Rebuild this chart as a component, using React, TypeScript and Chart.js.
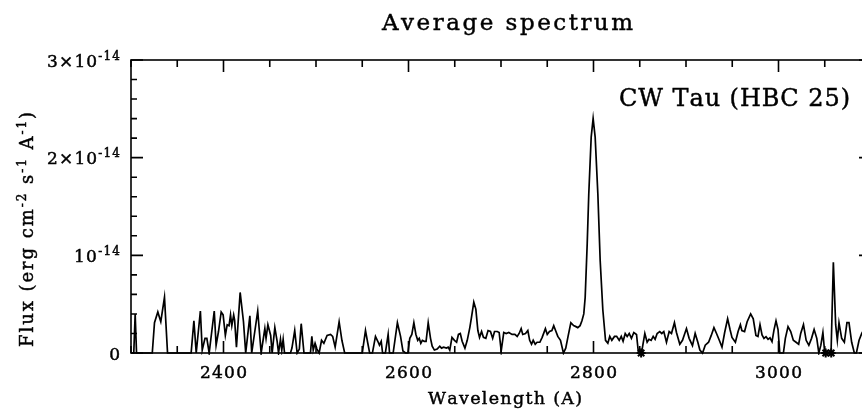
import React, { useEffect, useRef } from "react";
import { Chart, registerables } from "chart.js";

Chart.register(...registerables);

// Wavelength (Å) and flux (units of 1e-15 erg cm^-2 s^-1 Å^-1)
const wavelengths = [
  2300, 2303, 2304.5, 2306, 2323, 2325.4, 2329, 2332.2, 2336.2, 2339.5,
  2365, 2368, 2370.5, 2375, 2377, 2380, 2382, 2384.5, 2390, 2392,
  2394.6, 2397.5, 2399.6, 2402, 2404, 2406, 2407.6, 2409, 2411, 2412,
  2414, 2418, 2421.6, 2424, 2428.5, 2430.5, 2437, 2440.7, 2444.7, 2446,
  2448, 2451, 2452.6, 2455.5, 2458, 2459.5, 2461.6, 2463, 2464.5, 2466,
  2472.4, 2474, 2477, 2479.6, 2482, 2484, 2487, 2494, 2495.5, 2497,
  2499, 2501, 2503.4, 2506, 2508.5, 2512, 2515.7, 2518, 2520.7, 2525,
  2528, 2531, 2550, 2553.5, 2556, 2558, 2561, 2564.3, 2566.8, 2568.6,
  2570.5, 2572, 2575, 2578, 2579.5, 2583.4, 2588, 2591.4, 2594, 2596.8,
  2599.3, 2601.4, 2603.6, 2605.8, 2608, 2610, 2611.6, 2613.3, 2615, 2617,
  2619, 2621.3, 2623.8, 2625.6, 2628, 2631, 2633.8, 2635.7, 2638, 2641,
  2642.9, 2644.6, 2647, 2649.7, 2652, 2654, 2656, 2658, 2661, 2663.5,
  2666.3, 2668, 2670.6, 2672.8, 2675, 2676.8, 2679, 2681, 2683.6, 2686,
  2688.6, 2691, 2693, 2696, 2698, 2700.2, 2703, 2705.6, 2708.4, 2712,
  2715, 2717.5, 2719.6, 2721.8, 2723.5, 2726.5, 2729, 2731, 2733, 2734.8,
  2737, 2739, 2742, 2744.5, 2748, 2750, 2752.4, 2755, 2757, 2759,
  2761.4, 2764.3, 2767.5, 2770, 2772.5, 2775.5, 2778.5, 2781, 2783, 2785.5,
  2787.5, 2789.5, 2791, 2793.2, 2794.9, 2797.5, 2799.6, 2801.8, 2804.7, 2807.2,
  2810.1, 2813, 2815.5, 2817.6, 2819.8, 2822.7, 2825, 2827.8, 2830, 2832,
  2834.3, 2836.4, 2838.6, 2841, 2843.6, 2846.5, 2848.6, 2851.9, 2855.5, 2858,
  2860, 2862.3, 2864.5, 2866.6, 2868.8, 2871.6, 2873.8, 2876, 2878.9, 2881.8,
  2884.3, 2887.5, 2889.7, 2893.3, 2896.2, 2900.5, 2903.4, 2907, 2909.9, 2912.8,
  2915, 2917.9, 2920.8, 2924.4, 2927.3, 2930.2, 2933, 2936, 2938.9, 2941.8,
  2945, 2947.6, 2949.7, 2953.4, 2956.3, 2958.8, 2960.4, 2963.3, 2966.1, 2969.9,
  2972.7, 2975.6, 2977.8, 2980, 2982.2, 2984.3, 2986.5, 2988.7, 2990.8, 2993,
  2995.1, 2997.3, 2999.5, 3001.4, 3005.3, 3007.4, 3010.3, 3013.2, 3016, 3019,
  3021.8, 3024, 3027, 3029.9, 3032.8, 3035.7, 3038.5, 3041.4, 3043.6, 3045.8,
  3048, 3050, 3056.8, 3059.3, 3061.8, 3063.6, 3065.4, 3068.3, 3071.2, 3074,
  3076.2, 3079.1, 3082, 3084.2, 3087.1, 3090, 3093, 3097, 3100,
];

const fluxes = [
  0, 0, 4.0, 0, 0, 3.1, 4.2, 3.2, 5.7, 0,
  0, 3.3, 0, 4.3, 0.3, 1.5, 1.5, 0, 4.3, 0.8,
  2.2, 4.2, 3.9, 1.8, 2.9, 2.8, 3.9, 2.8, 3.9, 3.4,
  0.6, 6.2, 3.2, 0, 3.8, 0, 4.3, 0, 2.5, 1.5,
  2.9, 1.8, 0, 2.6, 1.2, 0, 1.4, 0.3, 1.4, 0,
  0, 0.5, 2.3, 0, 0.4, 3.0, 0, 0, 1.7, 0.3,
  1.0, 0.4, 0, 1.3, 1.0, 1.8, 1.9, 1.7, 0.6, 3.2,
  1.3, 0, 0, 2.3, 1.0, 0, 0, 1.7, 1.2, 0.8,
  1.2, 0, 0, 1.9, 0, 0, 3.1, 1.7, 0.2, 0,
  0, 1.5, 1.9, 3.1, 1.9, 1.3, 1.5, 1.0, 1.3, 1.2,
  1.2, 3.1, 1.5, 0.7, 0.3, 0.4, 0.7, 0.5, 0.6, 0.5,
  0.6, 0.3, 1.6, 1.3, 1.1, 1.9, 2.0, 1.2, 0.5, 1.3,
  2.6, 3.6, 5.2, 4.5, 2.3, 1.6, 2.2, 1.6, 1.5, 2.3,
  2.2, 1.5, 2.2, 2.2, 2.1, 0.2, 2.1, 2.0, 2.1, 1.9,
  1.9, 1.7, 2.0, 2.5, 1.9, 2.0, 2.3, 1.3, 0.9, 1.3,
  0.9, 1.1, 1.1, 1.6, 2.5, 1.9, 2.2, 2.3, 2.8, 2.3,
  1.7, 1.3, 0, 0.5, 1.7, 3.1, 2.8, 2.7, 2.6, 2.8,
  3.3, 4.0, 5.7, 11.2, 16.3, 22.1, 24.0, 22.1, 16.3, 9.5,
  4.4, 1.3, 1.0, 1.7, 1.3, 1.7, 1.7, 1.3, 1.7, 1.2,
  2.0, 1.7, 2.0, 1.5, 2.1, 1.9, 0, 0, 2.0, 1.1,
  1.4, 1.3, 1.7, 1.4, 2.0, 2.2, 2.0, 2.2, 1.1, 2.2,
  2.0, 3.1, 2.1, 0.9, 1.3, 2.5, 1.5, 0.75, 2.0, 1.1,
  0.3, 0, 0.8, 1.1, 1.8, 2.6, 2.0, 1.3, 0.6, 2.1,
  3.5, 2.4, 1.6, 1.1, 2.2, 2.9, 2.3, 2.2, 3.2, 4.0,
  3.5, 1.8, 1.7, 2.9, 1.85, 1.5, 1.67, 1.4, 1.56, 1.16,
  2.35, 3.3, 2.4, 0, 0, 1.5, 2.7, 2.2, 1.3, 1.1,
  0.9, 2.0, 2.9, 1.3, 0.8, 1.5, 2.4, 1.5, 0, 0.8,
  2.1, 0, 0, 9.3, 2.9, 1.3, 3.1, 1.5, 1.1, 3.1,
  3.1, 1.1, 0, 0, 1.3, 2.0, 2.5, 2.0, 2.2,
];

const flaggedWavelengths = [2851.5, 3051, 3057];
const flaggedFluxes = [0, 0, 0];

const xMinorStep = 50;
const xMajorTicks = [2400, 2600, 2800, 3000];
const xTickLabels = ["2400", "2600", "2800", "3000"];
const yMinorStep = 2;
const yMajorTicks = [0, 10, 20, 30];
const yTickMantissa = ["0", "10", "2×10", "3×10"];
const yTickExponent = ["", "-14", "-14", "-14"];

const titleText = "Average spectrum";
const objectLabel = "CW Tau (HBC 25)";
const xAxisTitle = "Wavelength (A)";
const yAxisTitleText = ["Flux (erg cm", "-2", " s", "-1", " A", "-1", ")"];
const yAxisTitleSup = [false, true, false, true, false, true, false];

const FONT = '"DejaVu Serif", serif';

type Seg = { t: string; sup: boolean };

function naturalWidth(ctx: CanvasRenderingContext2D, segs: Seg[], base: number, sup: number) {
  let w = 0;
  let n = 0;
  for (const s of segs) {
    ctx.font = `${s.sup ? sup : base}px ${FONT}`;
    for (const ch of s.t) {
      w += ctx.measureText(ch).width;
      n++;
    }
  }
  return { w, n };
}

function drawFit(
  ctx: CanvasRenderingContext2D,
  segs: Seg[],
  x: number,
  y: number,
  align: "left" | "center" | "right",
  target: number | null,
  base: number,
  sup: number,
  raise: number
) {
  const { w, n } = naturalWidth(ctx, segs, base, sup);
  const ls = target != null && n > 1 ? (target - w) / (n - 1) : 0;
  const total = w + ls * (n - 1);
  let cx = align === "left" ? x : align === "right" ? x - total : x - total / 2;
  ctx.textAlign = "left";
  ctx.textBaseline = "alphabetic";
  ctx.lineWidth = 0.45;
  for (const s of segs) {
    ctx.font = `${s.sup ? sup : base}px ${FONT}`;
    for (const ch of s.t) {
      const yy = s.sup ? y - raise : y;
      ctx.fillText(ch, cx, yy);
      ctx.strokeText(ch, cx, yy);
      cx += ctx.measureText(ch).width + ls;
    }
  }
}

const framePlugin = {
  id: "frame",
  afterDraw(chart: any) {
    const ctx: CanvasRenderingContext2D = chart.ctx;
    const { left, right, top, bottom } = chart.chartArea;
    const xs = chart.scales.x;
    const ys = chart.scales.y;
    ctx.save();
    ctx.strokeStyle = "#000";
    ctx.fillStyle = "#000";
    ctx.lineWidth = 1.6;
    ctx.strokeRect(left, top, right - left, bottom - top);

    ctx.beginPath();
    for (let v = xs.min; v <= xs.max + 1e-6; v += xMinorStep) {
      const px = xs.getPixelForValue(v);
      const len = xMajorTicks.includes(v) ? 12 : 7;
      ctx.moveTo(px, top);
      ctx.lineTo(px, top + len);
      ctx.moveTo(px, bottom);
      ctx.lineTo(px, bottom - len);
    }
    for (let v = ys.min; v <= ys.max + 1e-6; v += yMinorStep) {
      const py = ys.getPixelForValue(v);
      const len = yMajorTicks.includes(v) ? 12 : 6;
      ctx.moveTo(left, py);
      ctx.lineTo(left + len, py);
      ctx.moveTo(right, py);
      ctx.lineTo(right - len, py);
    }
    ctx.stroke();

    // x tick labels
    xMajorTicks.forEach((v, i) => {
      const px = xs.getPixelForValue(v);
      drawFit(ctx, [{ t: xTickLabels[i], sup: false }], px, bottom + 25, "center", 47, 17, 12, 0);
    });

    // y tick labels
    yMajorTicks.forEach((v, i) => {
      const py = ys.getPixelForValue(v);
      const segs: Seg[] = [{ t: yTickMantissa[i], sup: false }];
      if (yTickExponent[i]) segs.push({ t: yTickExponent[i], sup: true });
      const target = yTickExponent[i] ? (yTickMantissa[i].length > 2 ? 73 : 46) : null;
      drawFit(ctx, segs, left - 11, py + 6.5, "right", target, 17, 12, 7);
    });

    // Title
    drawFit(ctx, [{ t: titleText, sup: false }], 507.5, 29.5, "center", 251, 23, 14, 0);
    // Object label
    drawFit(ctx, [{ t: objectLabel, sup: false }], 850, 106, "right", 231, 24, 14, 0);
    // x axis title
    drawFit(ctx, [{ t: xAxisTitle, sup: false }], 505, 404, "center", 154, 17.5, 11, 0);

    // y axis title (rotated)
    ctx.save();
    ctx.translate(33, 347);
    ctx.rotate(-Math.PI / 2);
    const ysegs: Seg[] = yAxisTitleText.map((t, i) => ({ t, sup: yAxisTitleSup[i] }));
    drawFit(ctx, ysegs, 0, 0, "left", 235, 18, 12, 7);
    ctx.restore();

    ctx.restore();
  },
};

export default function App() {
  const canvasRef = useRef<HTMLCanvasElement | null>(null);

  useEffect(() => {
    const canvas = canvasRef.current;
    if (!canvas) return;
    const points = wavelengths.map((w, i) => ({ x: w, y: fluxes[i] }));
    const flagged = flaggedWavelengths.map((w, i) => ({ x: w, y: flaggedFluxes[i] }));
    const chart = new Chart(canvas, {
      type: "line",
      data: {
        datasets: [
          {
            type: "line",
            data: points,
            borderColor: "#000",
            borderWidth: 1.7,
            pointRadius: 0,
            tension: 0,
            fill: false,
            clip: 2,
          } as any,
          {
            type: "scatter",
            data: flagged,
            pointStyle: "star",
            pointRadius: 4.5,
            borderColor: "#000",
            backgroundColor: "#000",
            borderWidth: 2,
            clip: false,
          } as any,
        ],
      },
      options: {
        responsive: false,
        animation: false,
        events: [],
        layout: { padding: { left: 131, right: 29, top: 60, bottom: 59 } },
        scales: {
          x: { type: "linear", min: 2300, max: 3100, display: false },
          y: { type: "linear", min: 0, max: 30, display: false },
        },
        plugins: { legend: { display: false }, tooltip: { enabled: false }, title: { display: false } },
      },
      plugins: [framePlugin],
    });
    return () => chart.destroy();
  }, []);

  return (
    <div
      style={{
        position: "fixed",
        left: 0,
        top: 0,
        width: 862,
        height: 412,
        overflow: "hidden",
        background: "#fff",
      }}
    >
      <canvas ref={canvasRef} width={900} height={412} style={{ display: "block", width: 900, height: 412 }} />
    </div>
  );
}
